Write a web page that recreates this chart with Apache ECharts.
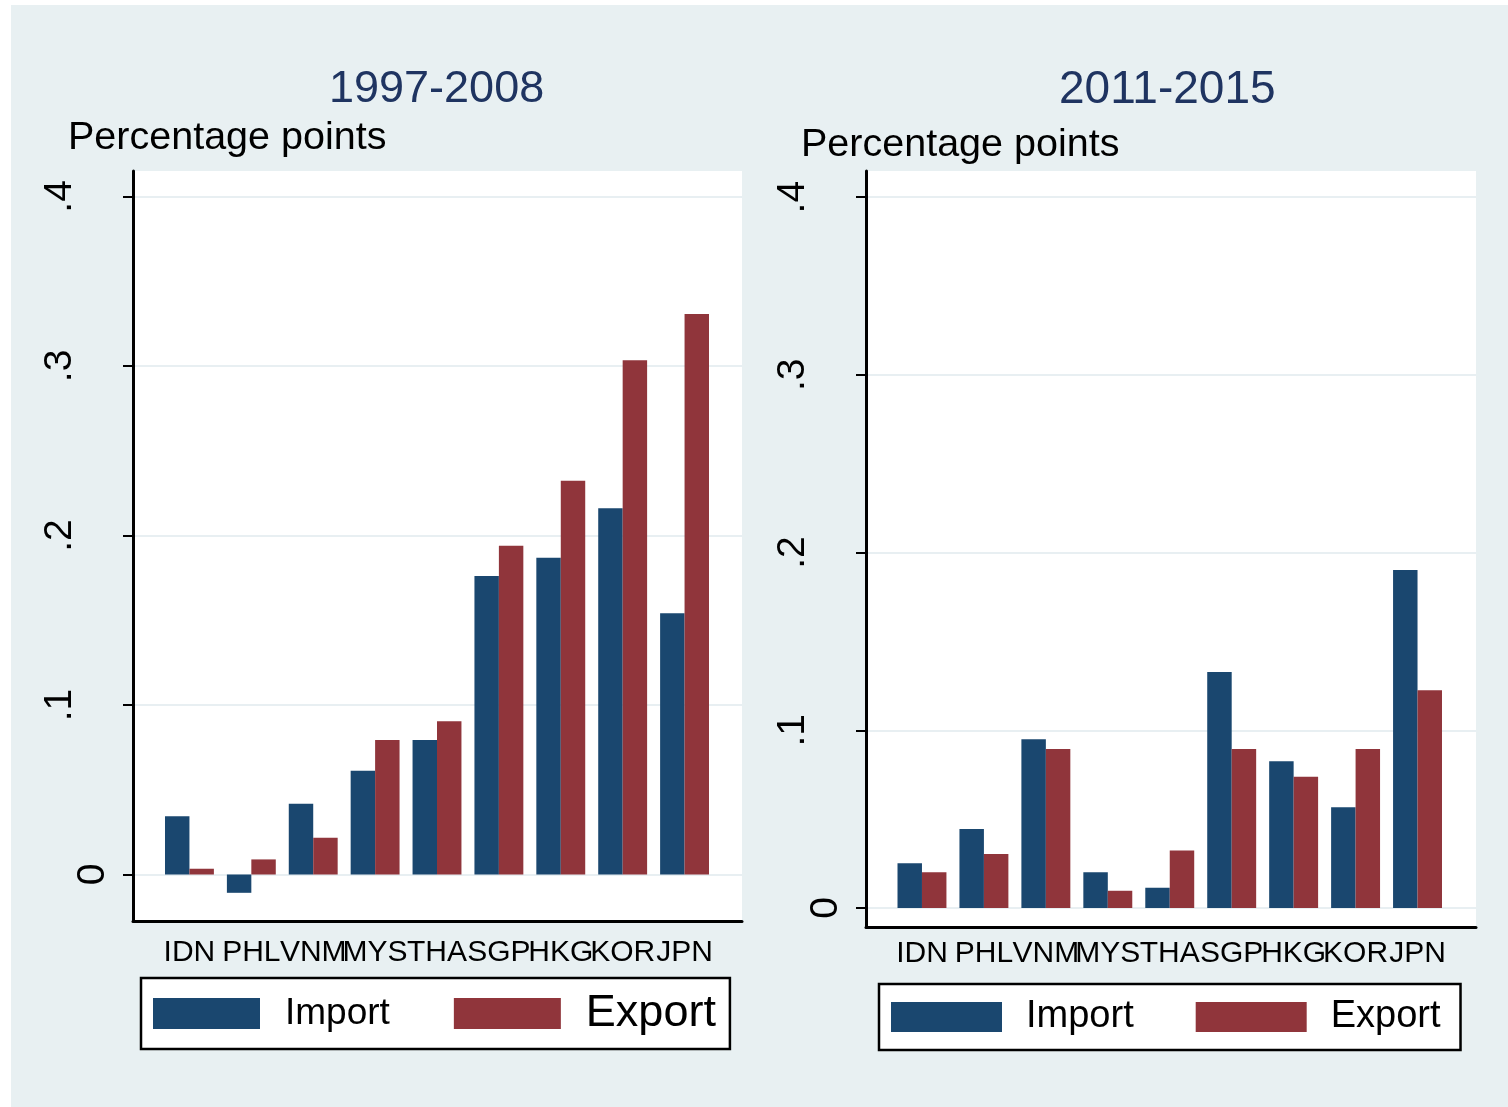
<!DOCTYPE html>
<html>
<head>
<meta charset="utf-8">
<script src="https://cdn.jsdelivr.net/npm/echarts@6/dist/echarts.min.js"></script>
<style>
html,body{margin:0;padding:0;background:#ffffff;}
#bg{position:absolute;left:11px;top:5px;width:1497px;height:1102px;background:#e8f0f2;}
#main{position:absolute;left:0;top:0;width:1508px;height:1107px;}
</style>
</head>
<body>
<div id="bg"></div>
<div id="main"></div>
<script>
const categories = ['IDN','PHL','VNM','MYS','THA','SGP','HKG','KOR','JPN'];
const import9708 = [0.0344, -0.0108, 0.0418, 0.0612, 0.0794, 0.1761, 0.1869, 0.2160, 0.1541];
const export9708 = [0.0034, 0.0089, 0.0217, 0.0794, 0.0904, 0.1940, 0.2323, 0.3034, 0.3307];
const import1115 = [0.0252, 0.0445, 0.0949, 0.0201, 0.0114, 0.1328, 0.0826, 0.0567, 0.1902];
const export1115 = [0.0201, 0.0304, 0.0895, 0.0097, 0.0323, 0.0895, 0.0739, 0.0895, 0.1225];
const yTicks = [0, 0.1, 0.2, 0.3, 0.4];
const yTickLabels = ['0', '.1', '.2', '.3', '.4'];
const panelTitles = ['1997-2008', '2011-2015'];
const yTitle = 'Percentage points';
const seriesNames = ['Import', 'Export'];

const NAVY = '#1a476f', MAROON = '#90353b';
const NARROW = "'Liberation Sans Narrow', 'Liberation Sans', Arial, sans-serif";
const REG = "'Liberation Sans', Arial, sans-serif";

function tickLabel(v) {
  let i = yTicks.findIndex(t => Math.abs(t - v) < 1e-9);
  let s = i >= 0 ? yTickLabels[i] : '';
  return Math.abs(v) < 1e-9 ? '{z|' + s + '}' : '{n|' + s + '}';
}

function frameAxes(gi, ymin, ymax) {
  return {
    x: {
      type: 'value', gridIndex: gi, min: 0, max: 1,
      axisLine: { show: true, onZero: false, lineStyle: { color: '#000', width: 3 } },
      axisTick: { show: false }, axisLabel: { show: false }, splitLine: { show: false }
    },
    y: {
      type: 'value', gridIndex: gi, min: ymin, max: ymax,
      axisLine: { show: true, onZero: false, lineStyle: { color: '#000', width: 3 } },
      axisTick: { show: true, length: 10, customValues: yTicks, lineStyle: { color: '#000', width: 2 } },
      axisLabel: {
        show: true, customValues: yTicks, rotate: 90, margin: 20,
        formatter: tickLabel,
        rich: {
          z: { fontFamily: NARROW, fontSize: 39, color: '#000' },
          n: { fontFamily: NARROW, fontSize: 39, color: '#000', padding: [0, 0, 33, 0] }
        }
      },
      splitLine: { show: true, lineStyle: { color: '#e8eff2', width: 2 } }
    }
  };
}

function dataAxes(gi, ymin, ymax, margin) {
  return {
    x: {
      type: 'category', gridIndex: gi, data: categories,
      axisLine: { show: false }, axisTick: { show: false },
      axisLabel: { interval: 0, margin: margin, fontFamily: REG, fontSize: 30, color: '#000' },
      splitLine: { show: false }
    },
    y: {
      type: 'value', gridIndex: gi, min: ymin, max: ymax, show: false,
      splitLine: { show: false }
    }
  };
}

const L_MIN = -0.02743, L_MAX = 0.4150;
const R_MIN = -0.01069, R_MAX = 0.4147;

const fL = frameAxes(0, L_MIN, L_MAX), dL = dataAxes(1, L_MIN, L_MAX, 17);
const fR = frameAxes(2, R_MIN, R_MAX), dR = dataAxes(3, R_MIN, R_MAX, 12);

function bar(name, data, xi, color) {
  return {
    type: 'bar', name: name, data: data, xAxisIndex: xi, yAxisIndex: xi,
    barGap: '0%', barCategoryGap: '21%', itemStyle: { color: color },
    emphasis: { disabled: true }
  };
}

const titleFont = { fontFamily: REG, fontSize: 45, fontWeight: 'normal', color: '#1f3461' };
const ytFont = { fontFamily: REG, fontSize: 39.5, fontWeight: 'normal', color: '#000' };

const option = {
  backgroundColor: 'transparent',
  animation: false,
  title: [
    { text: panelTitles[0], left: 329, top: 67, padding: 0, textStyle: titleFont },
    { text: panelTitles[1], left: 1059, top: 67, padding: 0, textStyle: Object.assign({}, titleFont, { fontSize: 46 }) },
    { text: yTitle, left: 68, top: 118, padding: 0, textStyle: ytFont },
    { text: yTitle, left: 801, top: 125, padding: 0, textStyle: ytFont }
  ],
  legend: [
    {
      left: 141, top: 978, orient: 'horizontal',
      data: [
        { name: seriesNames[0], icon: 'rect', textStyle: { fontSize: 37 } },
        { name: seriesNames[1], icon: 'rect', textStyle: { fontSize: 45 } }
      ],
      itemWidth: 107, itemHeight: 31, itemGap: 64,
      padding: [13, 14, 13, 12],
      borderColor: '#000', borderWidth: 2.5, backgroundColor: '#fff',
      selectedMode: false,
      itemStyle: { borderWidth: 0 },
      textStyle: { fontFamily: REG, color: '#000', padding: [6, 0, 0, 20] }
    },
    {
      left: 879, top: 984, orient: 'horizontal',
      data: [
        { name: seriesNames[0], icon: 'rect', textStyle: { fontSize: 38 } },
        { name: seriesNames[1], icon: 'rect', textStyle: { fontSize: 38 } }
      ],
      itemWidth: 111, itemHeight: 30, itemGap: 62,
      padding: [14, 20, 14, 12],
      borderColor: '#000', borderWidth: 2.5, backgroundColor: '#fff',
      selectedMode: false,
      itemStyle: { borderWidth: 0 },
      textStyle: { fontFamily: REG, color: '#000', padding: [6, 0, 0, 19] }
    }
  ],
  grid: [
    { left: 133, right: 1508 - 742, top: 171, bottom: 1107 - 921, show: true, backgroundColor: '#fff', borderWidth: 0 },
    { left: 158.5, right: 1508 - 715.5, top: 171, bottom: 1107 - 921 },
    { left: 866, right: 1508 - 1476, top: 171, bottom: 1107 - 927, show: true, backgroundColor: '#fff', borderWidth: 0 },
    { left: 891, right: 1508 - 1448.5, top: 171, bottom: 1107 - 927 }
  ],
  xAxis: [fL.x, dL.x, fR.x, dR.x],
  yAxis: [fL.y, dL.y, fR.y, dR.y],
  series: [
    bar(seriesNames[0], import9708, 1, NAVY),
    bar(seriesNames[1], export9708, 1, MAROON),
    bar(seriesNames[0], import1115, 3, NAVY),
    bar(seriesNames[1], export1115, 3, MAROON)
  ]
};

const chart = echarts.init(document.getElementById('main'), null, { renderer: 'canvas' });
chart.setOption(option);
</script>
</body>
</html>
